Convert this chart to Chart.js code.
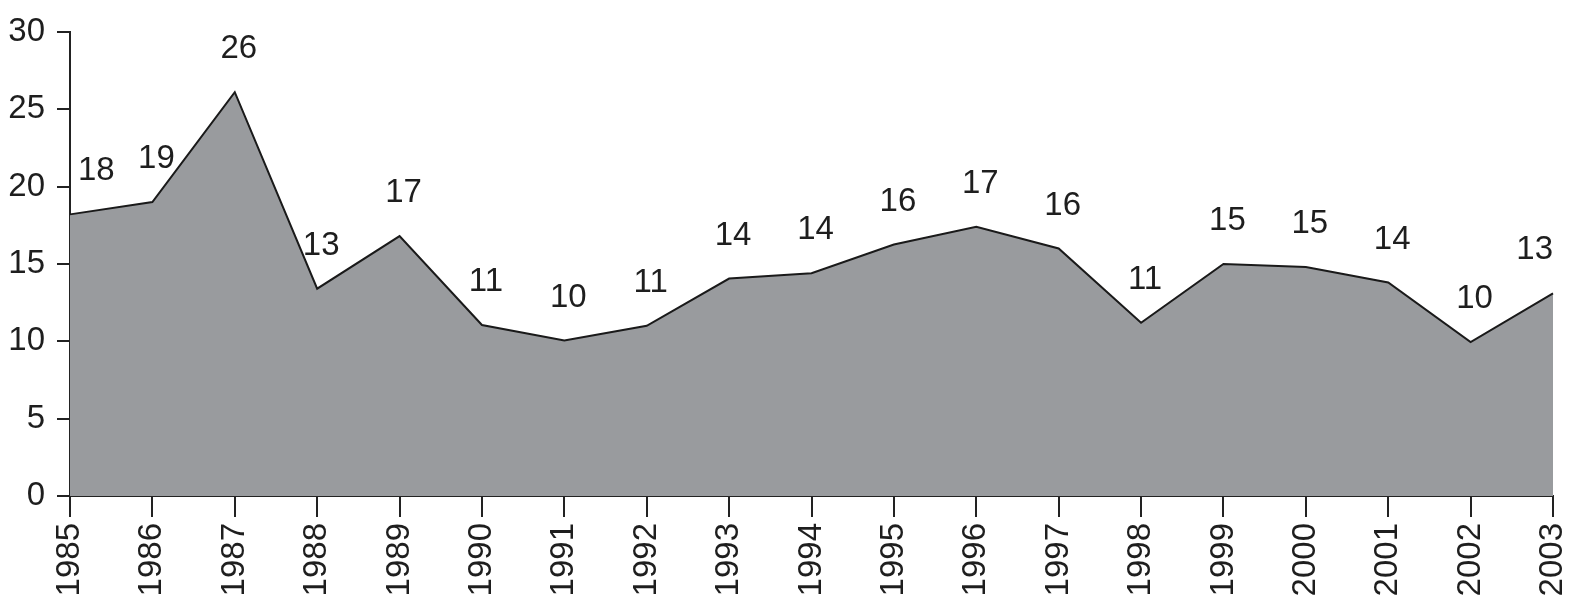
<!DOCTYPE html>
<html>
<head>
<meta charset="utf-8">
<script src="https://cdn.jsdelivr.net/npm/chart.js@4.4.1/dist/chart.umd.min.js"></script>
<style>
  html, body { margin: 0; padding: 0; background: #fff; }
  #wrap { width: 1575px; height: 609px; }
</style>
</head>
<body>
<div id="wrap"><canvas id="grafica" width="1575" height="609"></canvas></div>
<script>
// Datos del gráfico
const anios = ['1985', '1986', '1987', '1988', '1989', '1990', '1991', '1992', '1993', '1994',
               '1995', '1996', '1997', '1998', '1999', '2000', '2001', '2002', '2003'];
const valores = [18.2, 19.0, 26.1, 13.4, 16.8, 11.05, 10.05, 11.0, 14.05, 14.4,
                 16.25, 17.4, 16.0, 11.2, 15.0, 14.8, 13.8, 9.95, 13.1];
const etiquetas = ['18', '19', '26', '13', '17', '11', '10', '11', '14', '14',
                   '16', '17', '16', '11', '15', '15', '14', '10', '13'];
const ticksY = [0, 5, 10, 15, 20, 25, 30];

const fuente = "'Liberation Sans', Arial, sans-serif";

// Plugin para escribir los valores sobre cada punto
const etiquetasPlugin = {
    id: 'etiquetas',
    afterDatasetsDraw(chart) {
        const ctx = chart.ctx;
        const area = chart.chartArea;
        const meta = chart.getDatasetMeta(0);
        ctx.save();
        ctx.font = '33px ' + fuente;
        ctx.fillStyle = '#1e1e1e';
        ctx.textAlign = 'center';
        ctx.textBaseline = 'middle';
        meta.data.forEach((p, i) => {
            const mitad = ctx.measureText(etiquetas[i]).width / 2;
            let x = p.x + 4;
            // que no se salga del área del gráfico
            x = Math.max(x, area.left + mitad + 8);
            x = Math.min(x, area.right - mitad);
            ctx.fillText(etiquetas[i], x, p.y - 43);
        });
        ctx.restore();
    }
};

const ctx = document.getElementById('grafica').getContext('2d');

new Chart(ctx, {
    type: 'line',
    data: {
        labels: anios,
        datasets: [{
            data: valores,
            borderColor: '#1a1a1a',
            backgroundColor: '#999b9e',
            borderWidth: 2,
            fill: 'origin',
            pointRadius: 0,
            tension: 0
        }]
    },
    options: {
        responsive: false,
        animation: false,
        layout: { padding: { top: 27, right: 22, left: 0, bottom: 0 } },
        plugins: {
            legend: { display: false },
            tooltip: { enabled: false }
        },
        scales: {
            x: {
                offset: false,
                grid: { drawOnChartArea: false, drawTicks: true, tickLength: 21, color: '#222', lineWidth: 2 },
                border: { display: true, color: '#222', width: 2 },
                ticks: {
                    color: '#1e1e1e',
                    font: { size: 33, family: fuente },
                    minRotation: 90,
                    maxRotation: 90,
                    autoSkip: false,
                    padding: 6
                },
                afterFit(scale) {
                    scale.height = 113;
                    scale.paddingLeft = 0;
                    scale.paddingRight = 0;
                }
            },
            y: {
                min: 0,
                max: 30,
                afterBuildTicks(scale) { scale.ticks = ticksY.map(v => ({ value: v })); },
                grid: { drawOnChartArea: false, drawTicks: true, tickLength: 13, color: '#222', lineWidth: 2 },
                border: { display: true, color: '#222', width: 2 },
                ticks: {
                    color: '#1e1e1e',
                    font: { size: 33, family: fuente },
                    padding: 12
                },
                afterFit(scale) { scale.width = 70; }
            }
        }
    },
    plugins: [etiquetasPlugin]
});
</script>
</body>
</html>
